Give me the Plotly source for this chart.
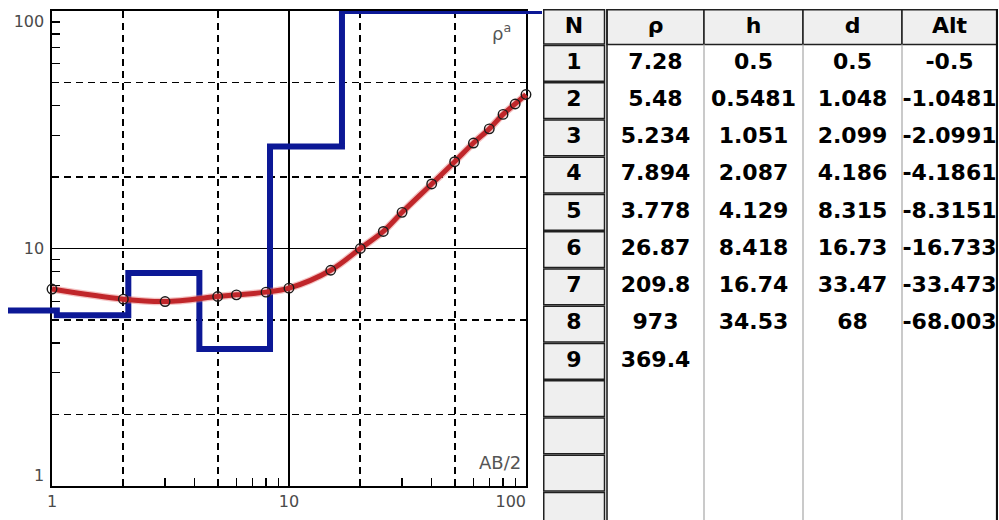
import numpy as np
import plotly.graph_objects as go

# ---------------- data ----------------
ab2 = [1, 2, 3, 5, 6, 8, 10, 15, 20, 25, 30, 40, 50, 60, 70, 80, 90, 100]
rho_app = [6.75, 6.12, 5.98, 6.28, 6.38, 6.55, 6.81, 8.1, 10.0, 11.8, 14.2,
           18.7, 23.2, 27.8, 31.9, 36.7, 40.6, 44.5]

layer_rho = [7.28, 5.48, 5.234, 7.894, 3.778, 26.87, 209.8, 973, 369.4]
layer_h = [0.5, 0.5481, 1.051, 2.087, 4.129, 8.418, 16.74, 34.53]
layer_d = [0.5, 1.048, 2.099, 4.186, 8.315, 16.73, 33.47, 68]
layer_alt = [-0.5, -1.0481, -2.0991, -4.1861, -8.3151, -16.733, -33.473, -68.003]

x_tick_vals = [1, 10, 100]
x_tick_text = ["1", "10", "100" + "&nbsp;" * 6]
y_tick_vals = [1, 10, 100]
y_tick_text = ["1<br> ", "10", "<br>100"]
dash_grid_vals = [2, 5, 20, 50]
minor_tick_vals = [3, 4, 6, 7, 8, 9, 30, 40, 60, 70, 80, 90]
table_headers = ["N", "ρ", "h", "d", "Alt"]
n_table_rows = 13

# ---------------- layout constants (pixels) ----------------
W, H = 999, 520
PLOT_L, PLOT_R, PLOT_T, PLOT_B = 52, 526, 11, 486
EXT_L, EXT_R = 8, 542
X_RANGE = [0, 2]
Y_RANGE = [0, 2]
px_dec_x = (PLOT_R - PLOT_L) / (X_RANGE[1] - X_RANGE[0])
X2_RANGE = [X_RANGE[0] - (PLOT_L - EXT_L) / px_dec_x,
            X_RANGE[1] + (EXT_R - PLOT_R) / px_dec_x]
xdom = [PLOT_L / W, PLOT_R / W]
ydom = [(H - PLOT_B) / H, (H - PLOT_T) / H]
x2dom = [EXT_L / W, EXT_R / W]

TBL_L, TBL_R, TBL_T = 543, 998, 9
col_edges = [0, 64, 161, 260, 359, 454]
HEAD_H = 35.5
ROW_H = 37.25

BLUE = "#0c1896"
RED = "#c0262a"
HALO = "rgba(230,120,120,0.45)"
LABEL_COLOR = "#4a4a4a"

fig = go.Figure()

# carrier traces for the axes
fig.add_trace(go.Scatter(x=[], y=[], xaxis="x3", yaxis="y3", mode="markers",
                         showlegend=False, hoverinfo="skip"))
fig.add_trace(go.Scatter(x=[], y=[], xaxis="x", yaxis="y", mode="markers",
                         showlegend=False, hoverinfo="skip"))

# layered model (blue step line), drawn on wider overlay axes
y_cap = 10 ** Y_RANGE[1]
step_x = [10 ** (X2_RANGE[0] - 1)] + layer_d + [10 ** X2_RANGE[1]]
step_y = list(np.minimum(layer_rho, y_cap)) + [min(layer_rho[-1], y_cap)]
fig.add_trace(go.Scatter(x=step_x, y=step_y, mode="lines",
                         line=dict(color=BLUE, width=6, shape="hv"),
                         xaxis="x2", yaxis="y2", showlegend=False))

# apparent resistivity curve
fig.add_trace(go.Scatter(x=ab2, y=rho_app, mode="lines",
                         line=dict(color=HALO, width=7.5, shape="spline"),
                         xaxis="x2", yaxis="y2", showlegend=False, hoverinfo="skip"))
fig.add_trace(go.Scatter(x=ab2, y=rho_app, mode="lines",
                         line=dict(color=RED, width=5, shape="spline"),
                         xaxis="x2", yaxis="y2", showlegend=False))
fig.add_trace(go.Scatter(x=ab2, y=rho_app, mode="markers",
                         marker=dict(symbol="circle-open", size=9.5, color="#1a1a1a",
                                     line=dict(width=1.4, color="#1a1a1a")),
                         xaxis="x2", yaxis="y2", showlegend=False))

# ---------------- table ----------------
col_centers = [(col_edges[j] + col_edges[j + 1]) / 2 for j in range(len(col_edges) - 1)]
col_centers[0] = 31
columns = [
    [str(i + 1) for i in range(len(layer_rho))],
    [f"{v:g}" for v in layer_rho],
    [f"{v:g}" for v in layer_h],
    [f"{v:g}" for v in layer_d],
    [f"{v:g}" for v in layer_alt],
]
tx, ty, tt = [], [], []
for j, head in enumerate(table_headers):
    tx.append(col_centers[j]); ty.append(HEAD_H / 2 + 0.5); tt.append(head)
for j, col in enumerate(columns):
    for i, val in enumerate(col):
        tx.append(col_centers[j])
        ty.append(HEAD_H + ROW_H * (i + 0.5))
        tt.append(val)
fig.add_trace(go.Scatter(x=tx, y=ty, text=tt, mode="text",
                         textfont=dict(family="DejaVu Sans", size=22, color="black",
                                       weight="bold"),
                         textposition="middle center",
                         xaxis="x4", yaxis="y4", showlegend=False, hoverinfo="skip"))

shapes = []
def rect(x0, y0, x1, y1, fill, lc, lw):
    shapes.append(dict(type="rect", xref="x4", yref="y4", x0=x0, y0=y0, x1=x1, y1=y1,
                       fillcolor=fill, line=dict(color=lc, width=lw), layer="below"))
def vline(x, y0, y1, lc, lw):
    shapes.append(dict(type="line", xref="x4", yref="y4", x0=x, y0=y0, x1=x, y1=y1,
                       line=dict(color=lc, width=lw), layer="below"))

BTN = "#efefef"
# header cells
rect(0.75, 0.75, 61.5, HEAD_H - 0.5, BTN, "#202020", 1.5)
for j in range(1, len(col_edges) - 1):
    rect(col_edges[j], 0.75, col_edges[j + 1], HEAD_H, BTN, "#202020", 1.5)
# N buttons
for i in range(n_table_rows):
    top = HEAD_H + ROW_H * i
    rect(0.75, top + 1, 61.5, top + ROW_H - 0.5, BTN, "#202020", 1.5)
# separators
vline(col_edges[1], 0, H - TBL_T, "#202020", 1.6)
for j in range(2, len(col_edges) - 1):
    vline(col_edges[j], HEAD_H, H - TBL_T, "#b8b8b8", 1.5)
vline(col_edges[-1], 0, H - TBL_T, "#101010", 2.2)

# ---------------- axes ----------------
tickfont = dict(family="DejaVu Sans", size=16, color=LABEL_COLOR)
main_common = dict(type="log", showline=True, linecolor="black", linewidth=1.6,
                   mirror=True, showgrid=True, gridcolor="black", gridwidth=1.2,
                   ticks="", tickfont=tickfont, automargin=False, zeroline=False,
                   tickmode="array",
                   minor=dict(tickmode="array", tickvals=minor_tick_vals, ticks="inside",
                              ticklen=8, tickwidth=1.3, tickcolor="black", showgrid=False))
dash_common = dict(type="log", showline=False, showgrid=True, gridcolor="black",
                   gridwidth=1.7, griddash="7px,5px", ticks="", showticklabels=False,
                   tickmode="array", tickvals=dash_grid_vals, zeroline=False,
                   automargin=False)
hidden = dict(visible=False, showgrid=False, zeroline=False, automargin=False)

fig.update_layout(
    width=W, height=H, autosize=False,
    margin=dict(l=0, r=0, t=0, b=0, pad=0),
    paper_bgcolor="white", plot_bgcolor="rgba(0,0,0,0)",
    showlegend=False,
    xaxis=dict(domain=xdom, range=X_RANGE, anchor="y", tickvals=x_tick_vals,
               ticktext=x_tick_text, ticklabelstandoff=0, **main_common),
    yaxis=dict(domain=ydom, range=Y_RANGE, anchor="x", tickvals=y_tick_vals,
               ticktext=y_tick_text, ticklabelstandoff=3, **main_common),
    xaxis3=dict(overlaying="x", anchor="y3", range=X_RANGE, **dash_common),
    yaxis3=dict(overlaying="y", anchor="x3", range=Y_RANGE, **dash_common),
    xaxis2=dict(domain=x2dom, range=X2_RANGE, anchor="y2", type="log", **hidden),
    yaxis2=dict(domain=ydom, range=Y_RANGE, anchor="x2", type="log", **hidden),
    xaxis4=dict(domain=[TBL_L / W, TBL_R / W], range=[0, TBL_R - TBL_L], anchor="y4", **hidden),
    yaxis4=dict(domain=[0, (H - TBL_T) / H], range=[H - TBL_T, 0], anchor="x4", **hidden),
    shapes=shapes,
    annotations=[
        dict(text="ρ<sup>a</sup>", xref="x domain", yref="y domain", x=0.972, y=0.956,
             xanchor="right", yanchor="middle", showarrow=False,
             font=dict(family="DejaVu Sans", size=18, color="#555555")),
        dict(text="AB/2", xref="x domain", yref="y domain", x=0.994, y=0.05,
             xanchor="right", yanchor="middle", showarrow=False,
             font=dict(family="DejaVu Sans", size=18, color="#555555")),
    ],
)

fig.write_html("out.html",
               config={"displayModeBar": False, "staticPlot": True},
               post_script="document.body.style.margin='0px';"
                           "document.body.style.overflow='hidden';")
